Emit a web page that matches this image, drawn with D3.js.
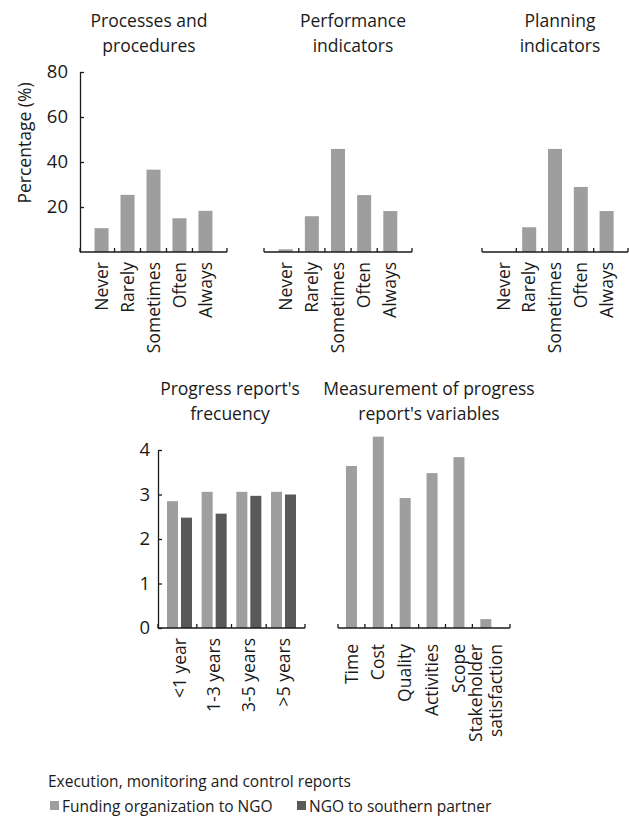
<!DOCTYPE html>
<html lang="en">
<head>
<meta charset="UTF-8">
<title>Execution, monitoring and control reports</title>
<script src="https://d3js.org/d3.v7.min.js"></script>
<style>
    body { margin: 0; padding: 0; background: #fff; }
    svg text { font-family: "Open Sans", "Noto Sans", sans-serif; fill: #1a1a1a; }
</style>
</head>
<body>
<div id="main"></div>
<script>
    // values
    var topCats = ["Never", "Rarely", "Sometimes", "Often", "Always"];
    var processesVals = [10.6, 25.4, 36.6, 15.0, 18.3];
    var performanceVals = [1.2, 15.9, 45.8, 25.3, 18.2];
    var planningVals = [0, 11.0, 45.8, 28.9, 18.2];
    var topTicks = [20, 40, 60, 80];

    var freqCats = ["<1 year", "1-3 years", "3-5 years", ">5 years"];
    var fundingFreq = [2.85, 3.06, 3.06, 3.06];
    var ngoFreq = [2.48, 2.57, 2.97, 3.0];

    var varCats = ["Time", "Cost", "Quality", "Activities", "Scope", "Stakeholder satisfaction"];
    var varVals = [3.64, 4.3, 2.92, 3.48, 3.84, 0.2];
    var bottomTicks = [0, 1, 2, 3, 4];

    var seriesNames = ["Funding organization to NGO", "NGO to southern partner"];
    var legendTitle = "Execution, monitoring and control reports";

    var light = "#9e9e9e", dark = "#595959", ink = "#1a1a1a";
    var fs = "17.5px";

    var width = 629, height = 819;

    var svg = d3.select("#main").append("svg")
        .attr("width", width)
        .attr("height", height);

    var yTop = d3.scaleLinear().domain([0, 80]).range([252, 72]);
    var yBot = d3.scaleLinear().domain([0, 4]).range([628, 450]);

    function title(lines, cx, y0) {
        var t = svg.append("text")
            .attr("text-anchor", "middle")
            .style("font-size", fs);
        lines.forEach(function(l, i) {
            t.append("tspan").attr("x", cx).attr("y", y0 + i * 25).text(l);
        });
    }

    // x axis line with ticks at band edges, labels rotated below
    function xAxis(x, base, labelGap) {
        var r = x.range();
        svg.append("line")
            .attr("x1", r[0]).attr("x2", r[1])
            .attr("y1", base).attr("y2", base)
            .attr("stroke", ink).attr("stroke-width", 1.3);

        var edges = [r[0]].concat(x.domain().slice(1).map(function(d) { return x(d); }), [r[1]]);
        svg.selectAll(null).data(edges).enter().append("line")
            .attr("x1", function(d) { return d; }).attr("x2", function(d) { return d; })
            .attr("y1", base).attr("y2", base - 4)
            .attr("stroke", ink).attr("stroke-width", 1.3);

        var labs = svg.selectAll(null).data(x.domain()).enter().append("text")
            .attr("text-anchor", "end")
            .style("font-size", fs)
            .attr("transform", function(d) {
                return "translate(" + (x(d) + x.bandwidth() / 2) + "," + (base + labelGap) + ") rotate(-90)";
            });
        labs.each(function(d) {
            var words = d.length > 12 ? d.split(" ") : [d];
            var sel = d3.select(this);
            words.forEach(function(w, i) {
                sel.append("tspan")
                    .attr("x", 0)
                    .attr("y", 0)
                    .attr("dy", (0.35 + (i - (words.length - 1) / 2) * 1.15) + "em")
                    .text(w);
            });
        });
    }

    function yAxis(y, xPos, ticks, pad) {
        var g = svg.append("g")
            .attr("transform", "translate(" + xPos + ",0)")
            .call(d3.axisLeft(y).tickValues(ticks).tickFormat(d3.format("d"))
                .tickSizeInner(-4).tickSizeOuter(0).tickPadding(pad));
        g.selectAll("path, line").attr("stroke", ink).attr("stroke-width", 1.3);
        g.selectAll("text").style("font-size", "18.5px").attr("fill", ink)
            .style("font-family", "'Open Sans', 'Noto Sans', sans-serif");
    }

    function topPanel(vals, r0, r1) {
        var x = d3.scaleBand().domain(topCats).range([r0, r1]).paddingInner(0).paddingOuter(0.33);
        var bw = 14;
        svg.selectAll(null).data(vals).enter().append("rect")
            .attr("x", function(d, i) { return x(topCats[i]) + (x.bandwidth() - bw) / 2; })
            .attr("width", bw)
            .attr("y", function(d) { return yTop(d); })
            .attr("height", function(d) { return yTop(0) - yTop(d); })
            .attr("fill", light);
        xAxis(x, yTop(0), 10);
    }

    // top row
    topPanel(processesVals, 80, 227);
    topPanel(performanceVals, 264, 412);
    topPanel(planningVals, 482, 628);
    yAxis(yTop, 80, topTicks, 12);
    title(["Processes and", "procedures"], 149, 27);
    title(["Performance", "indicators"], 353, 27);
    title(["Planning", "indicators"], 560, 27);

    svg.append("text")
        .attr("transform", "translate(31,143) rotate(-90)")
        .attr("text-anchor", "middle")
        .style("font-size", fs)
        .text("Percentage (%)");

    // progress report frequency, grouped bars
    var xf = d3.scaleBand().domain(freqCats).range([158, 305]).paddingInner(0).paddingOuter(0.12);
    var xs = d3.scaleBand().domain(seriesNames).range([0, xf.bandwidth()]).paddingInner(0.214).paddingOuter(0.346);
    var freqRows = freqCats.map(function(c, i) {
        return { cat: c, vals: [fundingFreq[i], ngoFreq[i]] };
    });
    svg.selectAll(null).data(freqRows).enter().append("g")
        .attr("transform", function(d) { return "translate(" + xf(d.cat) + ",0)"; })
        .selectAll("rect")
        .data(function(d) { return d.vals.map(function(v, j) { return { s: seriesNames[j], v: v }; }); })
        .enter().append("rect")
        .attr("x", function(d) { return xs(d.s); })
        .attr("width", xs.bandwidth())
        .attr("y", function(d) { return yBot(d.v); })
        .attr("height", function(d) { return yBot(0) - yBot(d.v); })
        .attr("fill", function(d, j) { return j === 0 ? light : dark; });
    xAxis(xf, yBot(0), 10);
    yAxis(yBot, 158, bottomTicks, 8);
    title(["Progress report's", "frecuency"], 230, 395);

    // measurement of variables
    var xv = d3.scaleBand().domain(varCats).range([338, 510]).paddingInner(0).paddingOuter(0.2).align(0);
    svg.selectAll(null).data(varVals).enter().append("rect")
        .attr("x", function(d, i) { return xv(varCats[i]) + (xv.bandwidth() - 11) / 2; })
        .attr("width", 11)
        .attr("y", function(d) { return yBot(d); })
        .attr("height", function(d) { return yBot(0) - yBot(d); })
        .attr("fill", light);
    xAxis(xv, yBot(0), 16);
    title(["Measurement of progress", "report's variables"], 429, 395);

    // legend
    svg.append("text")
        .attr("x", 48).attr("y", 787)
        .style("font-size", "15.5px")
        .text(legendTitle);

    var lg = svg.selectAll(null).data(seriesNames).enter().append("g")
        .attr("transform", function(d, i) { return "translate(" + (i === 0 ? 50 : 297) + ",801)"; });
    lg.append("rect").attr("width", 9).attr("height", 9)
        .attr("fill", function(d, i) { return i === 0 ? light : dark; });
    lg.append("text").attr("x", 12).attr("y", 11)
        .style("font-size", "15.5px")
        .text(function(d) { return d; });
</script>
</body>
</html>
